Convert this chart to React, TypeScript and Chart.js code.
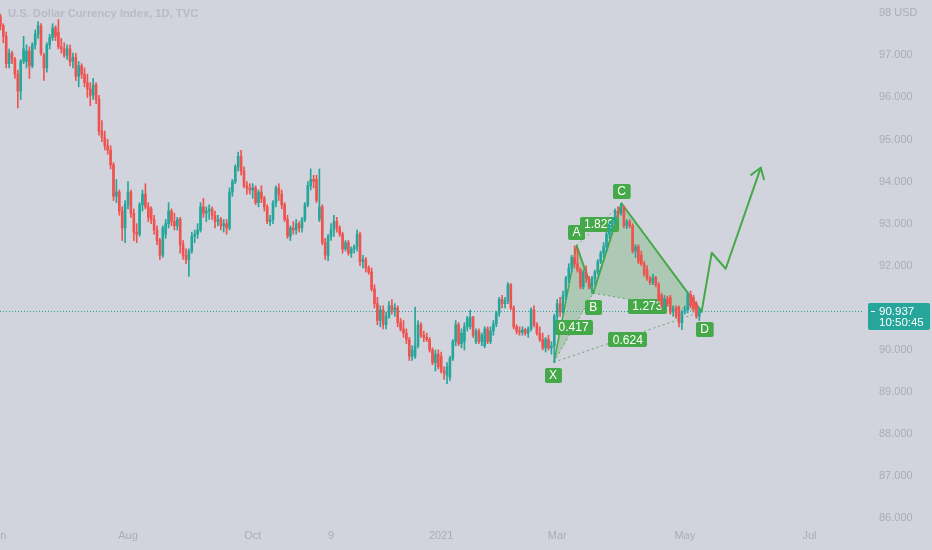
import React, { useEffect, useRef } from 'react';
import Chart from 'chart.js/auto';

type OHLC = [number, number, number, number]; // open, high, low, close

const title = 'U.S. Dollar Currency Index, 1D, TVC';

const jun20: OHLC[] = [
  [98.25, 98.40, 97.85, 97.92], [97.92, 97.98, 97.60, 97.70], [97.70, 97.75, 97.30, 97.45], [97.45, 97.55, 96.70, 96.80],
  [96.80, 97.15, 96.70, 97.05], [97.05, 97.10, 96.80, 96.90], [96.90, 96.95, 96.45, 96.55], [96.55, 96.65, 95.75, 96.15],
  [96.15, 96.90, 95.95, 96.85], [96.85, 97.45, 96.80, 97.15], [96.85, 97.25, 96.70, 97.10], [97.10, 97.20, 96.45, 96.75],
  [96.75, 97.30, 96.70, 97.25], [97.25, 97.60, 97.15, 97.50], [97.50, 97.80, 97.40, 97.70], [97.70, 97.75, 97.00, 97.05],
  [97.00, 97.05, 96.40, 96.70], [96.70, 97.30, 96.60, 97.25], [97.25, 97.50, 97.15, 97.42], [97.42, 97.75, 97.35, 97.65],
  [97.65, 97.70, 97.35, 97.45], [97.55, 97.85, 97.15, 97.20],
];
const jul20: OHLC[] = [
  [97.20, 97.40, 97.05, 97.15], [97.15, 97.30, 96.95, 97.00], [97.00, 97.25, 96.90, 97.15], [97.15, 97.25, 96.75, 96.85],
  [96.85, 97.05, 96.70, 96.95], [96.95, 97.05, 96.40, 96.50], [96.50, 96.85, 96.25, 96.75], [96.75, 96.80, 96.45, 96.55],
  [96.55, 96.70, 96.25, 96.35], [96.35, 96.55, 96.00, 96.20], [96.20, 96.35, 95.80, 96.05], [96.05, 96.45, 95.95, 96.30],
  [96.30, 96.35, 95.85, 95.95], [95.95, 96.05, 95.10, 95.20], [95.20, 95.45, 94.95, 95.05], [95.05, 95.20, 94.75, 94.85],
  [94.85, 95.00, 94.65, 94.75], [94.75, 94.85, 94.30, 94.40], [94.40, 94.45, 93.55, 93.65], [93.65, 94.05, 93.50, 93.75],
  [93.75, 93.80, 93.20, 93.30], [93.30, 93.40, 92.60, 92.90], [92.90, 93.55, 92.55, 93.45],
];
const aug20: OHLC[] = [
  [93.45, 94.00, 93.35, 93.75], [93.75, 93.80, 93.15, 93.25], [93.25, 93.35, 92.60, 92.80], [92.80, 93.00, 92.55, 92.75],
  [92.75, 93.50, 92.70, 93.45], [93.45, 93.80, 93.30, 93.70], [93.70, 93.95, 93.35, 93.40], [93.40, 93.50, 93.05, 93.15],
  [93.35, 93.40, 93.00, 93.10], [93.10, 93.20, 92.75, 92.85], [92.85, 92.95, 92.50, 92.60], [92.60, 92.65, 92.15, 92.25],
  [92.25, 92.95, 92.20, 92.90], [92.75, 93.10, 92.65, 93.00], [93.00, 93.50, 92.90, 93.30], [93.30, 93.35, 92.95, 93.05],
  [93.05, 93.25, 92.85, 92.95], [92.95, 93.15, 92.85, 93.10], [93.10, 93.15, 92.30, 92.50], [92.50, 92.60, 92.15, 92.25],
  [92.25, 92.40, 92.05, 92.15],
];
const sep20: OHLC[] = [
  [92.15, 92.40, 91.75, 92.35], [92.35, 92.80, 92.30, 92.70], [92.70, 92.85, 92.55, 92.75], [92.75, 93.00, 92.65, 92.85],
  [92.85, 93.50, 92.80, 93.40], [93.40, 93.60, 93.15, 93.25], [93.25, 93.40, 93.05, 93.30], [93.30, 93.45, 93.10, 93.35],
  [93.35, 93.40, 93.10, 93.20], [93.20, 93.30, 92.90, 93.05], [93.05, 93.20, 92.95, 93.10], [93.10, 93.15, 92.85, 92.95],
  [92.95, 93.10, 92.80, 93.00], [93.00, 93.10, 92.75, 92.90], [92.90, 93.85, 92.85, 93.75], [93.75, 94.05, 93.65, 94.00],
  [94.00, 94.40, 93.95, 94.35], [94.35, 94.70, 94.25, 94.60], [94.60, 94.74, 94.15, 94.25], [94.25, 94.35, 93.85, 93.90],
  [93.90, 94.00, 93.70, 93.85], [93.85, 93.95, 93.70, 93.80],
];
const oct20: OHLC[] = [
  [93.80, 93.95, 93.60, 93.85], [93.85, 93.90, 93.45, 93.50], [93.50, 93.80, 93.40, 93.75], [93.75, 93.90, 93.50, 93.60],
  [93.60, 93.65, 93.30, 93.40], [93.40, 93.45, 93.00, 93.05], [93.05, 93.20, 92.95, 93.10], [93.10, 93.55, 93.00, 93.50],
  [93.50, 93.90, 93.40, 93.85], [93.85, 93.95, 93.55, 93.70], [93.70, 93.80, 93.35, 93.45], [93.45, 93.50, 93.05, 93.10],
  [93.10, 93.20, 92.65, 92.70], [92.70, 92.95, 92.60, 92.90], [92.90, 93.05, 92.75, 92.85], [92.85, 93.10, 92.75, 93.00],
  [93.00, 93.05, 92.80, 92.90], [92.90, 93.15, 92.80, 93.10], [93.10, 93.50, 93.05, 93.45], [93.45, 94.00, 93.40, 93.90],
  [93.90, 94.30, 93.80, 94.05], [94.05, 94.15, 93.85, 94.00],
];
const nov20: OHLC[] = [
  [94.05, 94.15, 93.50, 93.55], [93.10, 94.30, 93.05, 93.40], [93.40, 93.45, 92.50, 92.55], [92.55, 92.65, 92.15, 92.25],
  [92.25, 92.75, 92.12, 92.70], [92.70, 93.00, 92.60, 92.85], [92.85, 93.20, 92.70, 93.05], [93.05, 93.15, 92.80, 92.90],
  [92.90, 92.95, 92.70, 92.75], [92.75, 92.80, 92.30, 92.40], [92.40, 92.60, 92.35, 92.55], [92.55, 92.60, 92.25, 92.30],
  [92.30, 92.45, 92.20, 92.40], [92.40, 92.50, 92.30, 92.45], [92.45, 92.85, 92.35, 92.75], [92.75, 92.80, 92.00, 92.10],
  [92.10, 92.25, 91.95, 92.15], [92.15, 92.20, 91.85, 91.95], [91.95, 92.00, 91.80, 91.85], [91.85, 91.95, 91.40, 91.45],
  [91.45, 91.55, 91.00, 91.10],
];
const dec20: OHLC[] = [
  [91.10, 91.25, 90.60, 90.70], [90.70, 91.05, 90.55, 90.95], [90.95, 91.05, 90.50, 90.60], [90.60, 90.90, 90.50, 90.80],
  [90.80, 91.15, 90.75, 91.05], [91.05, 91.20, 90.85, 90.95], [90.95, 91.10, 90.80, 91.00], [91.00, 91.05, 90.55, 90.65],
  [90.65, 90.75, 90.45, 90.50], [90.50, 90.70, 90.30, 90.40], [90.40, 90.50, 90.15, 90.25], [90.25, 90.30, 89.75, 89.85],
  [89.85, 90.10, 89.75, 90.00], [89.85, 91.02, 89.80, 90.10], [90.10, 90.70, 90.05, 90.60], [90.60, 90.65, 90.30, 90.35],
  [90.35, 90.45, 90.20, 90.30], [90.30, 90.40, 90.20, 90.25], [90.25, 90.30, 89.95, 90.00], [90.00, 90.05, 89.65, 89.70],
  [89.70, 90.00, 89.50, 89.90], [89.90, 90.00, 89.55, 89.60],
];
const jan21: OHLC[] = [
  [89.85, 89.95, 89.45, 89.50], [89.50, 89.60, 89.30, 89.45], [89.40, 89.70, 89.20, 89.60], [89.35, 89.85, 89.28, 89.80],
  [89.80, 90.25, 89.75, 90.20], [90.20, 90.70, 90.10, 90.60], [90.60, 90.65, 90.10, 90.15], [90.15, 90.50, 90.05, 90.40],
  [90.20, 90.65, 90.00, 90.55], [90.55, 90.80, 90.45, 90.75], [90.55, 90.95, 90.50, 90.78], [90.78, 90.80, 90.30, 90.35],
  [90.20, 90.50, 90.15, 90.45], [90.45, 90.50, 90.15, 90.20], [90.20, 90.40, 90.10, 90.35], [90.10, 90.55, 90.05, 90.50],
  [90.50, 90.55, 90.15, 90.20], [90.20, 90.55, 90.15, 90.45], [90.45, 90.70, 90.35, 90.62], [90.62, 90.92, 90.55, 90.88],
];
const feb21: OHLC[] = [
  [90.88, 91.25, 90.80, 91.20], [91.20, 91.30, 91.00, 91.10], [91.10, 91.25, 91.00, 91.18], [91.18, 91.60, 91.10, 91.55],
  [91.55, 91.58, 90.95, 91.00], [91.00, 91.05, 90.50, 90.55], [90.55, 90.60, 90.38, 90.45], [90.45, 90.55, 90.35, 90.42],
  [90.42, 90.55, 90.35, 90.48], [90.48, 90.52, 90.35, 90.40], [90.40, 90.55, 90.30, 90.50], [90.50, 91.00, 90.45, 90.95],
  [90.95, 91.05, 90.55, 90.60], [90.60, 90.65, 90.35, 90.40], [90.40, 90.55, 90.20, 90.25], [90.25, 90.40, 90.00, 90.05],
  [90.05, 90.30, 89.95, 90.25], [90.25, 90.35, 90.00, 90.05], [90.05, 90.20, 89.90, 90.10], [90.10, 90.85, 89.70, 90.80],
];
const mar21: OHLC[] = [
  [90.80, 91.20, 90.70, 91.10], [91.10, 91.25, 90.80, 90.90], [90.90, 91.40, 90.85, 91.30], [91.30, 91.75, 91.20, 91.70],
  [91.70, 92.05, 91.60, 91.95], [91.95, 92.25, 91.85, 92.20], [92.20, 92.47, 91.95, 92.05], [92.05, 92.40, 91.85, 91.90],
  [91.90, 91.95, 91.45, 91.50], [91.50, 91.90, 91.45, 91.85], [91.85, 92.00, 91.60, 91.70], [91.70, 91.75, 91.45, 91.50],
  [91.50, 91.75, 91.35, 91.70], [91.70, 91.90, 91.55, 91.85], [91.85, 92.15, 91.80, 92.10], [92.10, 92.35, 92.05, 92.30],
  [92.30, 92.55, 92.20, 92.45], [92.45, 92.80, 92.35, 92.75], [92.75, 93.05, 92.65, 92.95], [92.95, 93.15, 92.85, 93.05],
  [93.05, 93.35, 93.00, 93.30], [93.30, 93.40, 93.15, 93.25], [93.25, 93.48, 93.20, 93.40],
];
const apr21: OHLC[] = [
  [93.40, 93.42, 92.90, 92.95], [92.95, 93.10, 92.88, 93.05], [93.05, 93.10, 92.90, 92.95], [92.95, 93.00, 92.30, 92.35],
  [92.35, 92.50, 92.20, 92.45], [92.45, 92.50, 92.05, 92.10], [92.25, 92.35, 92.00, 92.05], [92.05, 92.10, 91.75, 91.80],
  [91.90, 92.00, 91.65, 91.70], [91.70, 91.75, 91.55, 91.60], [91.60, 91.80, 91.55, 91.72], [91.72, 91.75, 91.50, 91.55],
  [91.55, 91.60, 91.15, 91.20], [91.30, 91.35, 91.00, 91.05], [91.05, 91.30, 90.98, 91.22], [91.22, 91.28, 91.05, 91.10],
  [91.25, 91.30, 90.85, 90.90], [90.90, 91.05, 90.80, 91.00], [91.00, 91.05, 90.75, 90.80], [91.00, 91.05, 90.55, 90.65],
  [90.65, 90.95, 90.48, 90.90],
];
const may21: OHLC[] = [
  [90.90, 91.05, 90.85, 90.95], [90.95, 91.38, 90.88, 91.32], [91.32, 91.40, 91.00, 91.05], [91.25, 91.30, 90.90, 90.98],
  [91.10, 91.15, 90.75, 90.80], [90.80, 91.00, 90.70, 90.94],
];

const candles: OHLC[] = [
  ...jun20, ...jul20, ...aug20, ...sep20, ...oct20, ...nov20,
  ...dec20, ...jan21, ...feb21, ...mar21, ...apr21, ...may21,
];

// bar index of each time-axis label
const xTickIndex = [0, 45, 88, 115, 153, 193, 237, 280];
const xTickLabels = ['Jun', 'Aug', 'Oct', '9', '2021', 'Mar', 'May', 'Jul'];
const yTickValues = [86, 87, 88, 89, 90, 91, 92, 93, 94, 95, 96, 97, 98];

// XABCD harmonic pattern (bar index, price)
const patternNames = ['X', 'A', 'B', 'C', 'D'];
const patternIndex = [191.9, 199.7, 205.4, 215.2, 242.8];
const patternPrice = [89.71, 92.48, 91.35, 93.48, 90.91];
const ratioLabels = ['0.417', '1.829', '1.273', '0.624']; // XB, AC, BD, XD
// projected path after D
const projIndex = [242.8, 246.3, 251.1, 263.2];
const projPrice = [90.91, 92.31, 91.93, 94.33];

const lastPrice = 90.937;
const countdown = '10:50:45';

const BG = '#d1d4dc';
const UP = '#26a69a';
const DOWN = '#ef5350';
const GREEN = '#45a849';
const TXT = '#a9adb6';
const FONT = '"Liberation Sans", Arial, sans-serif';

function roundRect(ctx: CanvasRenderingContext2D, x: number, y: number, w: number, h: number, r: number) {
  ctx.beginPath();
  ctx.moveTo(x + r, y);
  ctx.lineTo(x + w - r, y);
  ctx.quadraticCurveTo(x + w, y, x + w, y + r);
  ctx.lineTo(x + w, y + h - r);
  ctx.quadraticCurveTo(x + w, y + h, x + w - r, y + h);
  ctx.lineTo(x + r, y + h);
  ctx.quadraticCurveTo(x, y + h, x, y + h - r);
  ctx.lineTo(x, y + r);
  ctx.quadraticCurveTo(x, y, x + r, y);
  ctx.closePath();
}

function tag(ctx: CanvasRenderingContext2D, text: string, cx: number, cy: number) {
  ctx.font = `12px ${FONT}`;
  const w = Math.max(15, ctx.measureText(text).width + 9);
  const h = 15;
  ctx.fillStyle = GREEN;
  roundRect(ctx, Math.round(cx - w / 2), Math.round(cy - h / 2), w, h, 2);
  ctx.fill();
  ctx.fillStyle = '#ffffff';
  ctx.textAlign = 'center';
  ctx.textBaseline = 'middle';
  ctx.fillText(text, cx, cy + 0.5);
}

const bgPlugin = {
  id: 'bgFill',
  beforeDraw(chart: any) {
    const { ctx, width, height } = chart;
    ctx.save();
    ctx.fillStyle = BG;
    ctx.fillRect(0, 0, width, height);
    ctx.restore();
  },
};

const overlayPlugin = {
  id: 'overlay',
  beforeDatasetsDraw(chart: any) {
    const { ctx, chartArea } = chart;
    const xs = chart.scales.x;
    const ys = chart.scales.y;
    ctx.save();
    ctx.beginPath();
    ctx.rect(chartArea.left, chartArea.top, chartArea.right - chartArea.left, chartArea.bottom - chartArea.top);
    ctx.clip();

    // last price dotted line
    const py = ys.getPixelForValue(lastPrice);
    ctx.strokeStyle = UP;
    ctx.lineWidth = 1;
    ctx.setLineDash([1, 2]);
    ctx.beginPath();
    ctx.moveTo(chartArea.left, Math.round(py) + 0.5);
    ctx.lineTo(chartArea.right, Math.round(py) + 0.5);
    ctx.stroke();

    const P = patternIndex.map((v, i) => ({ x: xs.getPixelForValue(v), y: ys.getPixelForValue(patternPrice[i]) }));
    const [X, A, B, C, D] = P;

    // fills
    ctx.setLineDash([]);
    ctx.fillStyle = 'rgba(76,175,80,0.27)';
    for (const tri of [[X, A, B], [B, C, D]]) {
      ctx.beginPath();
      ctx.moveTo(tri[0].x, tri[0].y);
      ctx.lineTo(tri[1].x, tri[1].y);
      ctx.lineTo(tri[2].x, tri[2].y);
      ctx.closePath();
      ctx.fill();
    }

    // dotted ratio lines
    const dotted: [any, any][] = [[X, B], [A, C], [B, D], [X, D]];
    ctx.strokeStyle = 'rgba(80,160,84,0.85)';
    ctx.lineWidth = 1;
    ctx.setLineDash([2, 3]);
    for (const [p, q] of dotted) {
      ctx.beginPath();
      ctx.moveTo(p.x, p.y);
      ctx.lineTo(q.x, q.y);
      ctx.stroke();
    }
    ctx.setLineDash([]);

    // solid legs
    ctx.strokeStyle = GREEN;
    ctx.lineJoin = 'round';
    ctx.lineCap = 'round';
    const legs: [any, any, number][] = [[X, A, 1.5], [A, B, 2], [B, C, 2], [C, D, 2]];
    for (const [p, q, w] of legs) {
      ctx.lineWidth = w;
      ctx.beginPath();
      ctx.moveTo(p.x, p.y);
      ctx.lineTo(q.x, q.y);
      ctx.stroke();
    }

    // projection arrow
    const R = projIndex.map((v, i) => ({ x: xs.getPixelForValue(v), y: ys.getPixelForValue(projPrice[i]) }));
    ctx.lineWidth = 2;
    ctx.beginPath();
    ctx.moveTo(R[0].x, R[0].y);
    for (let i = 1; i < R.length; i++) ctx.lineTo(R[i].x, R[i].y);
    ctx.stroke();
    const tip = R[R.length - 1];
    const prev = R[R.length - 2];
    const ang = Math.atan2(prev.y - tip.y, prev.x - tip.x);
    const hl = 12;
    ctx.beginPath();
    ctx.moveTo(tip.x + hl * Math.cos(ang - 0.6), tip.y + hl * Math.sin(ang - 0.6));
    ctx.lineTo(tip.x, tip.y);
    ctx.lineTo(tip.x + hl * Math.cos(ang + 0.6), tip.y + hl * Math.sin(ang + 0.6));
    ctx.stroke();

    // ratio tags at the middle of the dotted lines
    const ratioOffsets = [0, 0, 4, 3];
    dotted.forEach(([p, q], i) => {
      tag(ctx, ratioLabels[i], (p.x + q.x) / 2, (p.y + q.y) / 2 + ratioOffsets[i]);
    });
    // point tags
    const pointOffsets = [[-1, 13], [0, -13], [0, 14], [0, -12], [3, 18]];
    P.forEach((p, i) => {
      tag(ctx, patternNames[i], p.x + pointOffsets[i][0], p.y + pointOffsets[i][1]);
    });
    ctx.restore();
  },
  afterDraw(chart: any) {
    const { ctx, chartArea } = chart;
    const ys = chart.scales.y;
    ctx.save();
    // title
    ctx.font = `bold 11.2px ${FONT}`;
    ctx.fillStyle = '#b8bbc4';
    ctx.textAlign = 'left';
    ctx.textBaseline = 'middle';
    ctx.fillText(title, 8, 14);

    // last price box
    const py = Math.round(ys.getPixelForValue(lastPrice));
    const bx = chartArea.right + 5;
    ctx.fillStyle = UP;
    roundRect(ctx, bx, py - 8, 62, 27, 2);
    ctx.fill();
    ctx.strokeStyle = '#ffffff';
    ctx.lineWidth = 1;
    ctx.beginPath();
    ctx.moveTo(bx + 3, py + 0.5);
    ctx.lineTo(bx + 7, py + 0.5);
    ctx.stroke();
    ctx.fillStyle = '#ffffff';
    ctx.font = `11.5px ${FONT}`;
    ctx.textAlign = 'left';
    ctx.fillText(lastPrice.toFixed(3), bx + 11, py + 0.5);
    ctx.fillText(countdown, bx + 11, py + 11.5);
    ctx.restore();
  },
};

export default function App() {
  const ref = useRef<HTMLCanvasElement | null>(null);

  useEffect(() => {
    if (!ref.current) return;
    const up = candles.map((c) => c[3] >= c[0]);
    const colors = up.map((u) => (u ? UP : DOWN));
    const chart = new Chart(ref.current, {
      type: 'bar',
      data: {
        datasets: [
          {
            label: 'body',
            data: candles.map((c, i) => ({ x: i, y: [c[0], c[3]] })) as any,
            backgroundColor: colors,
            borderWidth: 0,
            barThickness: 2,
            minBarLength: 1,
            grouped: false,
            order: 0,
          },
          {
            label: 'wick',
            data: candles.map((c, i) => ({ x: i, y: [c[2], c[1]] })) as any,
            backgroundColor: colors,
            borderWidth: 0,
            barThickness: 1,
            grouped: false,
            order: 1,
          },
        ],
      },
      options: {
        responsive: false,
        animation: false,
        events: [],
        layout: { padding: 0 },
        plugins: { legend: { display: false }, tooltip: { enabled: false }, title: { display: false } },
        scales: {
          x: {
            type: 'linear',
            position: 'bottom',
            min: 0.862,
            max: 298.45,
            offset: false,
            grid: { display: false, offset: false },
            border: { display: false },
            ticks: {
              autoSkip: false,
              maxRotation: 0,
              padding: -4,
              color: TXT,
              font: { family: FONT, size: 11 },
              callback: (v: any) => {
                const k = xTickIndex.indexOf(Number(v));
                return k >= 0 ? xTickLabels[k] : '';
              },
            },
            afterBuildTicks: (s: any) => {
              s.ticks = xTickIndex.map((v) => ({ value: v }));
            },
            afterFit: (s: any) => {
              s.height = 25;
              s.paddingLeft = 0;
              s.paddingRight = 0;
            },
          } as any,
          y: {
            type: 'linear',
            position: 'right',
            min: 85.843,
            max: 98.313,
            beginAtZero: false,
            grid: { display: false },
            border: { display: false },
            ticks: {
              padding: 8,
              color: TXT,
              font: { family: FONT, size: 11 },
              callback: (v: any) => (Number(v) === 98 ? '98 USD' : Number(v).toFixed(3)),
            },
            afterBuildTicks: (s: any) => {
              s.ticks = yTickValues.map((v) => ({ value: v }));
            },
            afterFit: (s: any) => {
              s.width = 69;
              s.paddingTop = 0;
              s.paddingBottom = 0;
            },
          } as any,
        },
      },
      plugins: [bgPlugin, overlayPlugin],
    });
    return () => chart.destroy();
  }, []);

  return (
    <div style={{ position: 'fixed', left: 0, top: 0, width: 932, height: 550, background: BG }}>
      <canvas ref={ref} width={932} height={550} style={{ display: 'block', width: 932, height: 550 }} />
    </div>
  );
}
